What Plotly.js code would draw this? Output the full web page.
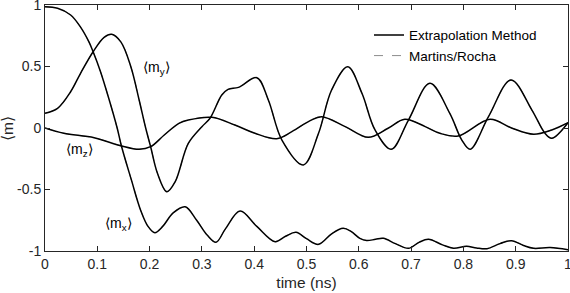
<!DOCTYPE html>
<html>
<head>
<meta charset="utf-8">
<script src="https://cdn.plot.ly/plotly-3.0.1.min.js"></script>
<style>html,body{margin:0;padding:0;background:#fff;}#chart{width:570px;height:293px;}</style>
</head>
<body>
<div id="chart"></div>
<script>
// time (ns) and magnetization components
var mxTime = [0, 0.024, 0.049, 0.068, 0.084, 0.092, 0.106, 0.122, 0.138, 0.146, 0.165, 0.183, 0.197, 0.210, 0.225, 0.245, 0.268, 0.290, 0.310, 0.327, 0.345, 0.373, 0.405, 0.440, 0.460, 0.480, 0.500, 0.523, 0.548, 0.570, 0.585, 0.602, 0.615, 0.632, 0.647, 0.670, 0.695, 0.715, 0.733, 0.760, 0.781, 0.806, 0.825, 0.845, 0.870, 0.892, 0.915, 0.934, 0.966, 1.0];
var mxVals = [0.986, 0.973, 0.919, 0.82, 0.70, 0.62, 0.46, 0.24, 0.0, -0.144, -0.42, -0.67, -0.80, -0.851, -0.80, -0.69, -0.64, -0.75, -0.87, -0.929, -0.82, -0.675, -0.80, -0.924, -0.88, -0.848, -0.90, -0.946, -0.86, -0.816, -0.84, -0.897, -0.915, -0.905, -0.897, -0.94, -0.978, -0.93, -0.905, -0.95, -0.978, -0.962, -0.975, -0.981, -0.94, -0.916, -0.955, -0.978, -0.972, -0.99];

var myTime = [0, 0.024, 0.049, 0.068, 0.092, 0.113, 0.1275, 0.145, 0.164, 0.180, 0.1925, 0.202, 0.215, 0.233, 0.249, 0.274, 0.300, 0.3155, 0.338, 0.350, 0.370, 0.405, 0.427, 0.453, 0.494, 0.523, 0.548, 0.579, 0.606, 0.631, 0.662, 0.695, 0.736, 0.774, 0.797, 0.813, 0.848, 0.891, 0.931, 0.956, 0.969, 1.0];
var myVals = [0.12, 0.16, 0.295, 0.445, 0.62, 0.737, 0.762, 0.70, 0.50, 0.228, 0.0, -0.152, -0.368, -0.518, -0.436, -0.125, 0.011, 0.079, 0.268, 0.314, 0.33, 0.409, 0.228, -0.098, -0.30, -0.043, 0.309, 0.498, 0.282, -0.016, -0.173, 0.065, 0.363, 0.119, -0.098, -0.173, 0.092, 0.39, 0.146, -0.043, -0.084, 0.043];

var mzTime = [0, 0.036, 0.094, 0.145, 0.180, 0.202, 0.228, 0.256, 0.274, 0.319, 0.363, 0.4015, 0.443, 0.472, 0.507, 0.529, 0.574, 0.618, 0.656, 0.688, 0.727, 0.755, 0.790, 0.851, 0.892, 0.934, 0.969, 1.0];
var mzVals = [0.0, -0.043, -0.079, -0.144, -0.173, -0.152, -0.057, 0.038, 0.065, 0.087, 0.024, -0.043, -0.087, -0.030, 0.06, 0.092, 0.011, -0.076, -0.002, 0.071, 0.011, -0.043, -0.065, 0.071, 0.0, -0.051, -0.016, 0.043];

var xTickVals = [0, 0.1, 0.2, 0.3, 0.4, 0.5, 0.6, 0.7, 0.8, 0.9, 1];
var xTickText = ["0", "0.1", "0.2", "0.3", "0.4", "0.5", "0.6", "0.7", "0.8", "0.9", "1"];
var yTickVals = [-1, -0.5, 0, 0.5, 1];
var yTickText = ["-1", "-0.5", "0", "0.5", "1"];

var seriesNames = ["Extrapolation Method", "Martins/Rocha"];
var curveLabels = ["\u27E8m<sub>x</sub>\u27E9", "\u27E8m<sub>y</sub>\u27E9", "\u27E8m<sub>z</sub>\u27E9"];
var curves = [[mxTime, mxVals], [myTime, myVals], [mzTime, mzVals]];

var traces = [];
curves.forEach(function (c, i) {
  traces.push({
    x: c[0], y: c[1], mode: 'lines', type: 'scatter',
    name: seriesNames[1], legendrank: 2, showlegend: i === 0,
    line: {color: '#8c8c8c', width: 1, dash: 'dash', shape: 'spline', smoothing: 1},
    hoverinfo: 'skip'
  });
});
curves.forEach(function (c, i) {
  traces.push({
    x: c[0], y: c[1], mode: 'lines', type: 'scatter',
    name: seriesNames[0], legendrank: 1, showlegend: i === 0,
    line: {color: '#000000', width: 1.5, shape: 'spline', smoothing: 1},
    hoverinfo: 'skip'
  });
});

var fam = 'Liberation Sans, Arial, sans-serif';
var tickFont = {family: fam, size: 14, color: '#262626'};
var titleFont = {family: fam, size: 15.5, color: '#262626'};
var labelFont = {family: fam, size: 14, color: '#000'};
var axisCommon = {
  showline: true, linecolor: '#262626', linewidth: 1, mirror: 'ticks',
  ticks: 'inside', ticklen: 5, tickwidth: 1, tickcolor: '#262626',
  showgrid: false, zeroline: false, tickfont: tickFont, tickmode: 'array',
  ticklabeloverflow: 'allow', automargin: false
};

var layout = {
  width: 570, height: 293,
  margin: {l: 45, r: 2, t: 5, b: 42, autoexpand: false},
  paper_bgcolor: '#fff', plot_bgcolor: '#fff',
  font: tickFont,
  showlegend: true,
  legend: {
    xref: 'paper', x: (369 - 45) / 523, y: 0.94, xanchor: 'left', yanchor: 'top',
    bgcolor: 'rgba(0,0,0,0)', borderwidth: 0, itemwidth: 30,
    font: {family: fam, size: 13.5, color: '#000'},
    traceorder: 'normal'
  },
  xaxis: Object.assign({}, axisCommon, {
    range: [0, 1], tickvals: xTickVals, ticktext: xTickText,
    title: {text: 'time (ns)', font: titleFont, standoff: 6}
  }),
  yaxis: Object.assign({}, axisCommon, {
    range: [-1, 1], tickvals: yTickVals, ticktext: yTickText
  }),
  annotations: [
    {xref: 'paper', yref: 'paper', x: (7 - 45) / 523, y: 0.5, xanchor: 'center', yanchor: 'middle', text: '\u27E8m\u27E9', showarrow: false, textangle: -90, font: titleFont},
    {xref: 'x', yref: 'y', x: 0.213, y: 0.49, xanchor: 'center', text: curveLabels[1], showarrow: false, font: labelFont},
    {xref: 'x', yref: 'y', x: 0.065, y: -0.18, xanchor: 'center', text: curveLabels[2], showarrow: false, font: labelFont},
    {xref: 'x', yref: 'y', x: 0.14, y: -0.78, xanchor: 'center', text: curveLabels[0], showarrow: false, font: labelFont}
  ]
};

Plotly.newPlot('chart', traces, layout, {displayModeBar: false, staticPlot: true});
</script>
</body>
</html>
